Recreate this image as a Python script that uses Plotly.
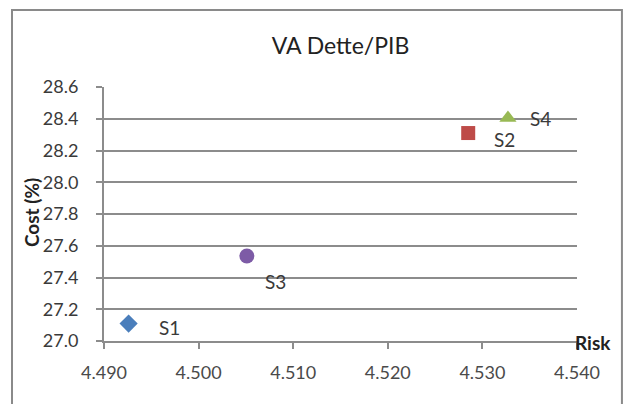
import plotly.graph_objects as go

# Scenario results: risk vs. cost
scenarios = ["S1", "S2", "S3", "S4"]
risk = [4.4926, 4.5285, 4.5051, 4.5327]
cost = [27.11, 28.31, 27.535, 28.405]
colors = ["#4a7ebb", "#be4b48", "#7d5ba6", "#98b954"]
symbols = ["diamond", "square", "circle", "triangle-up"]
sizes = [14, 14, 15, 15]

# label offsets (pixels) for each scenario name
label_dx = [28, 24, 16, 20]
label_dy = [-4, -6, -25, -1]

x_ticks = [4.490, 4.500, 4.510, 4.520, 4.530, 4.540]
y_ticks = [27.0, 27.2, 27.4, 27.6, 27.8, 28.0, 28.2, 28.4, 28.6]

FONT = "Lato"
GRID = "#8c8c8c"
TXT = "#3a3a3a"

fig = go.Figure()
for i, name in enumerate(scenarios):
    fig.add_trace(go.Scatter(
        x=[risk[i]], y=[cost[i]], mode="markers", name=name,
        marker=dict(symbol=symbols[i], size=sizes[i], color=colors[i],
                    line=dict(width=0)),
        showlegend=False,
    ))
    fig.add_annotation(
        x=risk[i], y=cost[i], text=name, showarrow=False,
        xanchor="left", yanchor="middle",
        xshift=label_dx[i], yshift=label_dy[i],
        font=dict(family=FONT, size=19, color=TXT),
    )

# axis titles
fig.add_annotation(
    xref="paper", yref="paper", x=1.0, y=0.0, text="<b>Risk</b>",
    showarrow=False, xanchor="left", yanchor="middle", xshift=-4, yshift=-1,
    font=dict(family=FONT, size=19, color="#222222"),
)
fig.add_annotation(
    xref="paper", yref="paper", x=-0.152, y=0.504, text="<b>Cost (%)</b>",
    showarrow=False, xanchor="center", yanchor="middle", textangle=-90,
    font=dict(family=FONT, size=19, color="#222222"),
)

# outer chart frame
fig.add_shape(
    type="rect", xref="paper", yref="paper",
    x0=-0.1945, x1=1.095, y0=-0.4, y1=1.303,
    line=dict(color="#8a8a8a", width=2), fillcolor="rgba(0,0,0,0)",
    layer="below",
)

fig.update_layout(
    width=630, height=404,
    margin=dict(l=104, r=53, t=87, b=63),
    paper_bgcolor="white", plot_bgcolor="white",
    title=dict(text="VA Dette/PIB", x=0.5, xref="paper", xanchor="center",
               y=1 - 46 / 404, yanchor="middle",
               font=dict(family=FONT, size=23, color="#222222")),
    font=dict(family=FONT, color=TXT),
    xaxis=dict(
        range=[4.490, 4.540], tickvals=x_ticks,
        ticktext=[f"{v:.3f}" for v in x_ticks],
        showgrid=False, zeroline=False,
        showline=True, linecolor=GRID, linewidth=2,
        ticks="outside", ticklen=6, tickwidth=2, tickcolor=GRID,
        ticklabelstandoff=8,
        tickfont=dict(family=FONT, size=18, color="#4a4a4a"),
    ),
    yaxis=dict(
        range=[27.0, 28.6], tickvals=y_ticks,
        ticktext=[f"{v:.1f}" for v in y_ticks],
        showgrid=True, gridcolor=GRID, gridwidth=2, zeroline=False,
        showline=True, linecolor=GRID, linewidth=2,
        ticks="outside", ticklen=6, tickwidth=2, tickcolor=GRID,
        ticklabelstandoff=14,
        tickfont=dict(family=FONT, size=18, color=TXT),
    ),
)

fig.write_html("out.html")
